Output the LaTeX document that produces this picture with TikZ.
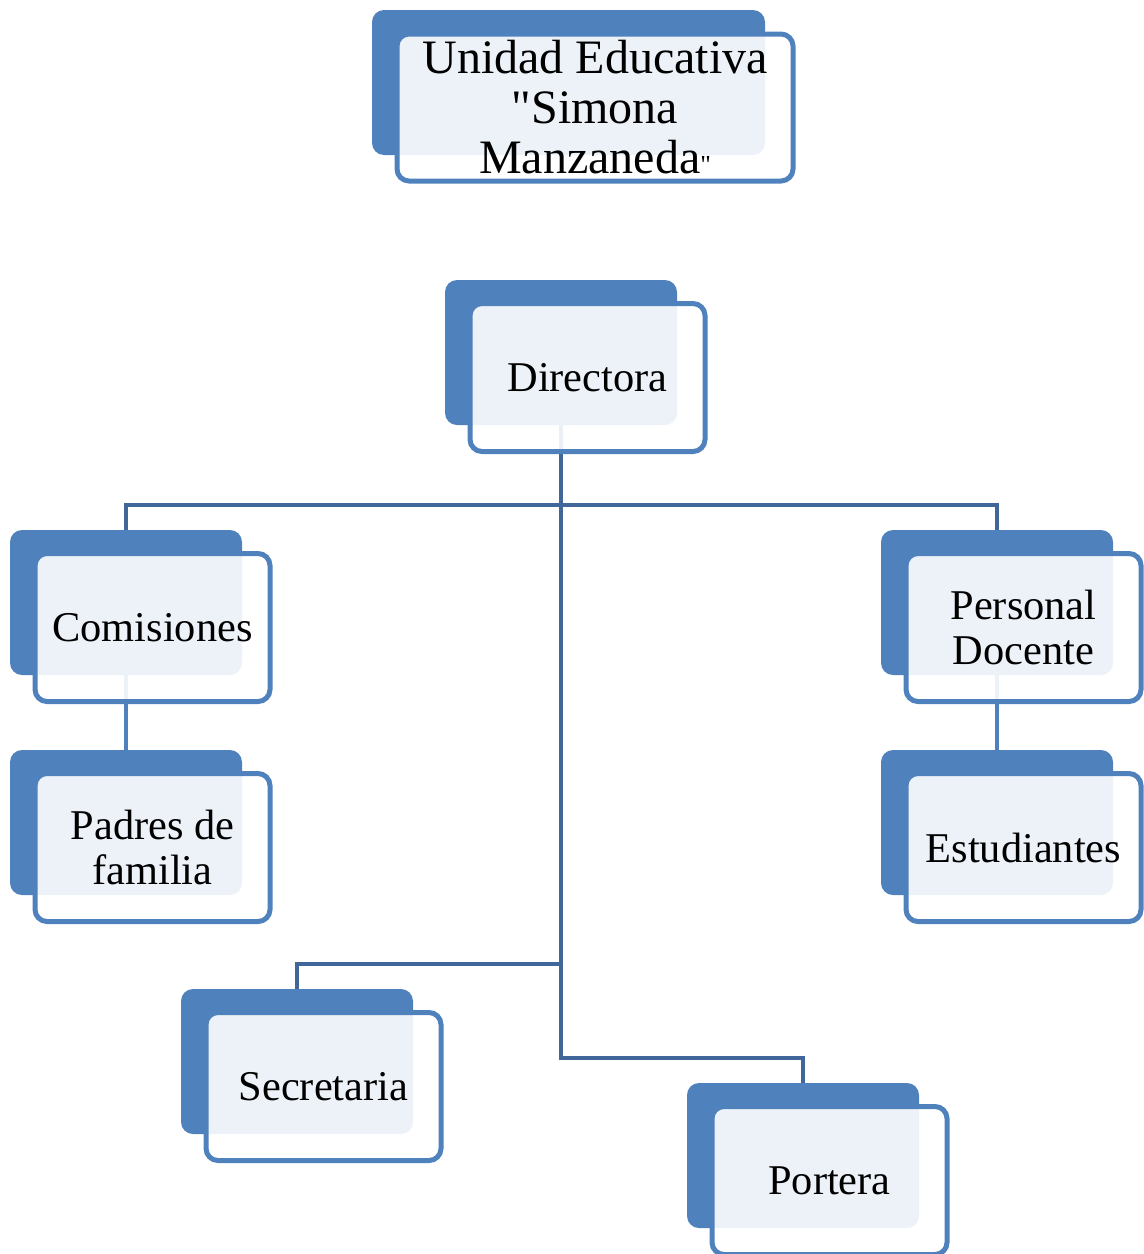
\documentclass[tikz,border=0pt]{standalone}
\usepackage{fontspec}
\setmainfont{Liberation Serif}[Ligatures=TeXOff]
\definecolor{BoxColor}{RGB}{79,129,189}
\definecolor{LinkColor}{RGB}{65,103,154}
\tikzstyle{org-base}=[rectangle,
                      rounded corners=6pt,
                      inner sep=0pt,
                     ]
\tikzstyle{org-back}=[org-base,
                      fill=BoxColor,
                      minimum width=116pt,
                      minimum height=72.5pt]
\tikzstyle{org-front}=[org-base,
                       draw=BoxColor,
                       line width=2.5pt,
                       fill=white,
                       fill opacity=0.9,
                       text opacity=1,
                       align=center,
                       font=\fontsize{21.2}{22.5}\selectfont,
                       minimum width=117.5pt,
                       minimum height=74pt]
\tikzstyle{org-link}=[draw=LinkColor, line width=2.2pt]
\begin{document}
\begin{tikzpicture}[x=0.5pt,y=-0.5pt]
\useasboundingbox (0,0) rectangle (1144,1254);

\node at (568.5,  82.5) (title_back) [org-back, minimum width=196.5pt] {};
\node at (561,   352.5) (dir_back)   [org-back] {};
\node at (126,   602.5) (com_back)   [org-back] {};
\node at (126,   822.5) (pad_back)   [org-back] {};
\node at (997,   602.5) (doc_back)   [org-back] {};
\node at (997,   822.5) (est_back)   [org-back] {};
\node at (297,  1061.5) (sec_back)   [org-back] {};
\node at (803,  1155.5) (por_back)   [org-back] {};

\coordinate (bus_top) at (561, 505);
\coordinate (bus_sec) at (561, 964);
\coordinate (bus_por) at (561,1058);

\draw[org-link] (dir_back.south) -- (bus_por) -| (por_back.north);
\draw[org-link] (bus_top) -| (com_back.north);
\draw[org-link] (bus_top) -| (doc_back.north);
\draw[org-link] (bus_sec) -| (sec_back.north);
\draw[org-link, draw=BoxColor] (com_back.south) -- (pad_back.north);
\draw[org-link, draw=BoxColor] (doc_back.south) -- (est_back.north);

\node at (595,   107.5) (title_front) [org-front, minimum width=198pt, minimum height=73.5pt, font=\fontsize{24}{25}\selectfont] {Unidad Educativa\\"Simona\\Manzaneda{\fontsize{13}{13}\selectfont"}};
\node at (587.5, 377.5) (dir_front) [org-front] {Directora};
\node at (152.5, 627.5) (com_front) [org-front] {Comisiones};
\node at (152.5, 847.5) (pad_front) [org-front] {Padres de\\familia};
\node at (1023.5,627.5) (doc_front) [org-front] {Personal\\Docente};
\node at (1023.5,847.5) (est_front) [org-front] {Estudiantes};
\node at (323.5,1086.5) (sec_front) [org-front] {Secretaria};
\node at (829.5,1180.5) (por_front) [org-front] {Portera};
\end{tikzpicture}
\end{document}
